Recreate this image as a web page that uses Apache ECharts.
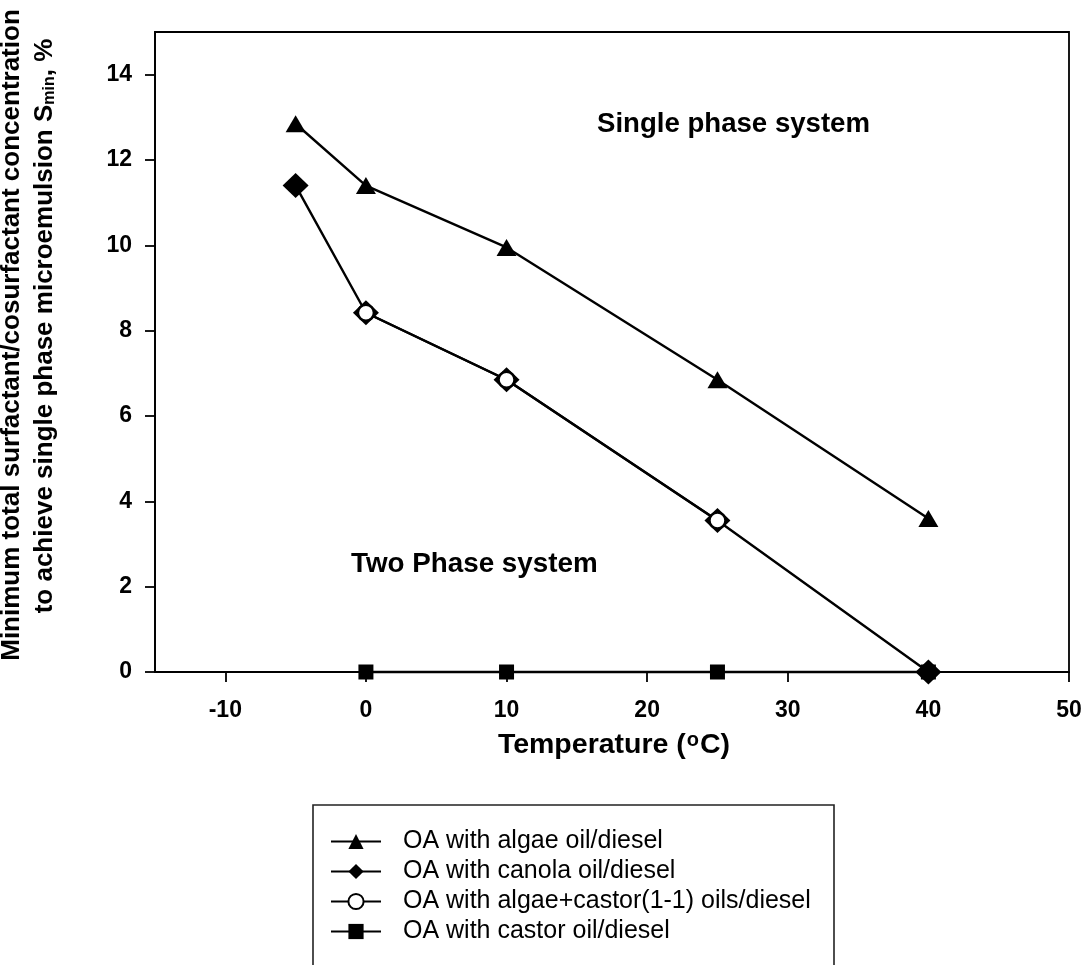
<!DOCTYPE html>
<html>
<head>
<meta charset="utf-8">
<script src="https://cdn.jsdelivr.net/npm/echarts@6/dist/echarts.min.js"></script>
<style>
  html, body { margin: 0; padding: 0; background: #fff; }
  #chart { width: 1087px; height: 965px; }
</style>
</head>
<body>
<div id="chart"></div>
<script>
// Minimum surfactant/cosurfactant concentration (%) vs temperature (°C)
const temperatures = [-5, 0, 10, 25, 40];
const algaeOil = [12.85, 11.4, 9.95, 6.85, 3.6];
const canolaOil = [11.4, 8.42, 6.85, 3.55, 0];
const blendTemps = [0, 10, 25];
const algaeCastorOil = [8.42, 6.85, 3.55];
const castorTemps = [0, 10, 25, 40];
const castorOil = [0, 0, 0, 0];

const xTicks = [-10, 0, 10, 20, 30, 40, 50];
const yTicks = [0, 2, 4, 6, 8, 10, 12, 14];

const seriesNames = [
  'OA with algae oil/diesel',
  'OA with canola oil/diesel',
  'OA with algae+castor(1-1) oils/diesel',
  'OA with castor oil/diesel'
];

const FONT = '"Liberation Sans", Arial, sans-serif';

function pairs(xs, ys) {
  return xs.map((x, i) => [x, ys[i]]);
}

const lineStyle = { color: '#000', width: 2.4 };

function makeSeries(name, xs, ys, symbol, size, itemStyle) {
  return {
    name: name,
    type: 'line',
    data: pairs(xs, ys),
    symbol: symbol,
    symbolSize: size,
    showSymbol: true,
    clip: false,
    silent: true,
    animation: false,
    lineStyle: lineStyle,
    itemStyle: itemStyle,
    emphasis: { disabled: true }
  };
}

const chart = echarts.init(document.getElementById('chart'), null, { renderer: 'canvas' });

const tickLabel = { fontSize: 23, fontWeight: 'bold', color: '#000', fontFamily: FONT };
const axisStroke = { color: '#000', width: 1.8 };

chart.setOption({
  backgroundColor: '#fff',
  animation: false,
  textStyle: { fontFamily: FONT },
  grid: {
    left: 155, right: 18, top: 32, bottom: 293,
    show: true, borderColor: '#000', borderWidth: 1.8,
    backgroundColor: 'transparent'
  },
  xAxis: {
    type: 'value',
    min: -15,
    max: 50,
    axisLine: { onZero: false, lineStyle: axisStroke },
    axisTick: { customValues: xTicks, length: 10, lineStyle: axisStroke },
    axisLabel: Object.assign({ customValues: xTicks, margin: 27 }, tickLabel),
    splitLine: { show: false }
  },
  yAxis: {
    type: 'value',
    min: 0,
    max: 15,
    axisLine: { show: true, onZero: false, lineStyle: axisStroke },
    axisTick: { show: true, customValues: yTicks, length: 10, lineStyle: axisStroke },
    axisLabel: Object.assign({ customValues: yTicks, margin: 23 }, tickLabel),
    splitLine: { show: false }
  },
  legend: {
    orient: 'vertical',
    left: 330,
    top: 829,
    itemWidth: 50,
    itemHeight: 19,
    itemGap: 5,
    padding: 0,
    selectedMode: false,
    textStyle: { fontSize: 25, color: '#000', fontFamily: FONT, padding: [0, 0, 0, 17] },
    data: seriesNames
  },
  series: [
    makeSeries(seriesNames[0], temperatures, algaeOil, 'triangle', [20, 17], { color: '#000' }),
    makeSeries(seriesNames[1], temperatures, canolaOil, 'diamond', [26, 25], { color: '#000' }),
    makeSeries(seriesNames[2], blendTemps, algaeCastorOil, 'circle', 16,
      { color: '#fff', borderColor: '#000', borderWidth: 2.5 }),
    makeSeries(seriesNames[3], castorTemps, castorOil, 'rect', 15, { color: '#000' })
  ],
  graphic: [
    {
      type: 'rect',
      silent: true,
      shape: { x: 313, y: 805, width: 521, height: 220 },
      style: { fill: 'none', stroke: '#222', lineWidth: 1.6 }
    },
    {
      type: 'text',
      silent: true,
      x: 597, y: 124,
      style: {
        text: 'Single phase system',
        font: 'bold 27.6px ' + FONT,
        fill: '#000',
        align: 'left', textAlign: 'left',
        verticalAlign: 'middle', textVerticalAlign: 'middle'
      }
    },
    {
      type: 'text',
      silent: true,
      x: 351, y: 564,
      style: {
        text: 'Two Phase system',
        font: 'bold 27.8px ' + FONT,
        fill: '#000',
        align: 'left', textAlign: 'left',
        verticalAlign: 'middle', textVerticalAlign: 'middle'
      }
    },
    {
      type: 'text',
      silent: true,
      x: 614, y: 745,
      style: {
        text: 'Temperature ({sup|o}C)',
        font: 'bold 28.5px ' + FONT,
        fill: '#000',
        align: 'center', textAlign: 'center',
        verticalAlign: 'middle', textVerticalAlign: 'middle',
        rich: {
          sup: { fontSize: 20, fontWeight: 'bold', fontFamily: FONT, fill: '#000', verticalAlign: 'top', padding: [0, 1, 0, 1] }
        }
      }
    },
    {
      type: 'text',
      silent: true,
      x: 12, y: 335,
      rotation: Math.PI / 2,
      style: {
        text: 'Minimum total surfactant/cosurfactant concentration',
        font: 'bold 26px ' + FONT,
        fill: '#000',
        align: 'center', textAlign: 'center',
        verticalAlign: 'middle', textVerticalAlign: 'middle'
      }
    },
    {
      type: 'text',
      silent: true,
      x: 45, y: 326,
      rotation: Math.PI / 2,
      style: {
        text: 'to achieve single phase microemulsion S{sub|min}, %',
        font: 'bold 26px ' + FONT,
        fill: '#000',
        align: 'center', textAlign: 'center',
        verticalAlign: 'middle', textVerticalAlign: 'middle',
        rich: {
          sub: { fontSize: 16, fontWeight: 'bold', fontFamily: FONT, fill: '#000', verticalAlign: 'bottom', padding: [8, 0, 0, 0] }
        }
      }
    }
  ]
});
</script>
</body>
</html>
